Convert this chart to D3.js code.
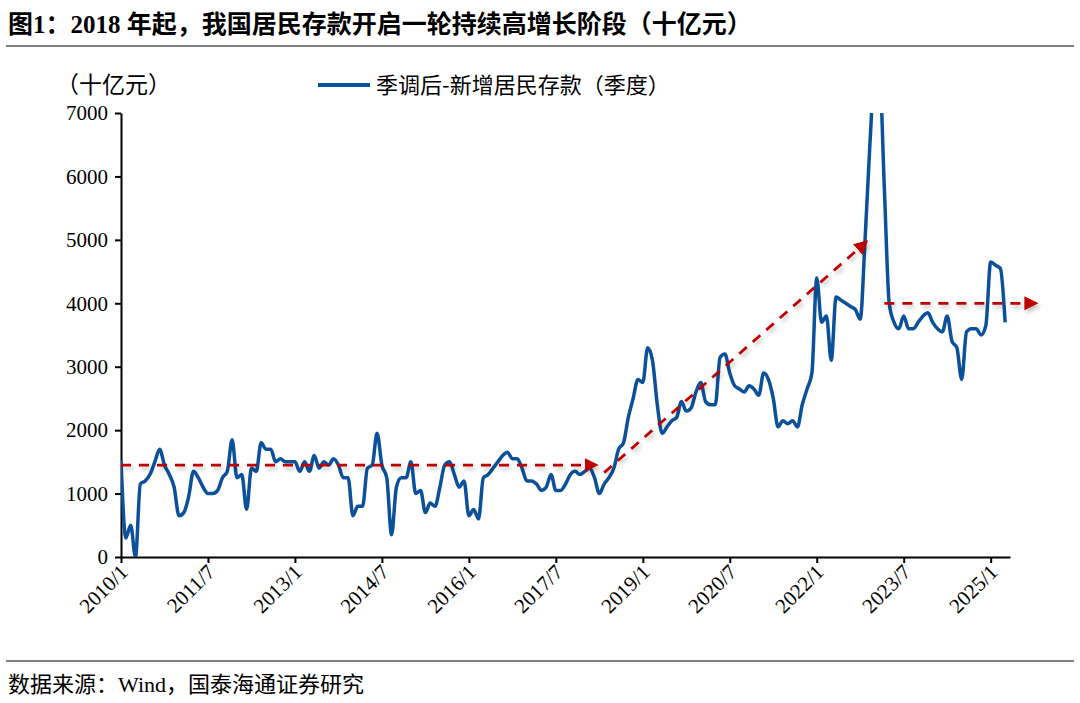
<!DOCTYPE html>
<html><head><meta charset="utf-8">
<script src="https://cdn.jsdelivr.net/npm/d3@7"></script>
<style>body{margin:0;background:#fff}</style></head>
<body><svg id="c" width="1080" height="703"></svg>
<script>
const values = [1530,300,500,0,1150,1200,1300,1500,1700,1450,1300,1100,650,700,950,1350,1250,1100,
1000,1000,1050,1250,1350,1850,1250,1300,750,1400,1350,1800,1700,1700,1500,1550,1500,1500,
1500,1350,1500,1350,1600,1400,1500,1450,1550,1450,1250,1250,650,800,800,1400,1450,1950,
1450,1250,350,1100,1250,1250,1500,1000,1050,700,850,800,1100,1450,1500,1300,1100,1200,
650,750,600,1250,1300,1400,1500,1600,1650,1550,1550,1400,1200,1200,1150,1050,1100,1300,
1050,1050,1150,1300,1350,1300,1350,1400,1250,1000,1150,1250,1400,1700,1800,2200,2500,2800,
2750,3300,3100,2400,1950,2050,2150,2200,2450,2300,2350,2600,2750,2450,2400,2400,3150,3200,
2900,2700,2650,2600,2700,2650,2550,2900,2800,2500,2050,2150,2100,2150,2050,2400,2650,2900,
4400,3700,3800,3100,4100,4050,4000,3950,3900,3750,5000,6500,7600,7600,5800,4000,3700,3600,
3800,3600,3600,3700,3800,3850,3700,3600,3550,3800,3400,3300,2800,3550,3600,3600,3500,3650,
4650,4600,4550,3700];
const tickMonths = [0,18,36,54,72,90,108,126,144,162,180];
const tickLabels = ["2010/1","2011/7","2013/1","2014/7","2016/1","2017/7","2019/1","2020/7","2022/1","2023/7","2025/1"];
const yTicks = [0,1000,2000,3000,4000,5000,6000,7000];
const arrows = [[0,1450,98,1450],[100,1330,154,4950],[158,4000,189,4000]];
const title = "图1：2018 年起，我国居民存款开启一轮持续高增长阶段（十亿元）";
const seriesName = "季调后-新增居民存款（季度）";
const unit = "（十亿元）";
const source = "数据来源：Wind，国泰海通证券研究";

const svg = d3.select("#c");
const x = d3.scaleLinear().domain([0,184]).range([121,1010]);
const y = d3.scaleLinear().domain([0,7000]).range([557,113]);
const serif = "'Liberation Serif','Noto Serif CJK SC','Noto Sans CJK SC',serif";

svg.append("text").attr("x",8).attr("y",33).attr("font-family","'Liberation Serif','Noto Sans CJK SC'")
  .attr("font-weight","bold").attr("font-size",25).text(title);
svg.append("line").attr("x1",6).attr("x2",1074).attr("y1",46).attr("y2",46).attr("stroke","#000").attr("stroke-width",1.2);
svg.append("line").attr("x1",6).attr("x2",1074).attr("y1",661).attr("y2",661).attr("stroke","#000").attr("stroke-width",1.2);
svg.append("text").attr("x",8).attr("y",692).attr("font-family","'Liberation Serif','Noto Sans CJK SC'")
  .attr("font-size",22).text(source);

svg.append("text").attr("x",56).attr("y",93).attr("font-family","'Noto Sans CJK SC'").attr("font-size",23).text(unit);
svg.append("line").attr("x1",318).attr("x2",370).attr("y1",85).attr("y2",85).attr("stroke","#0a509a").attr("stroke-width",4);
svg.append("text").attr("x",376).attr("y",93).attr("font-family","'Noto Sans CJK SC'").attr("font-size",22).text(seriesName);

const yAx = svg.append("g").attr("transform","translate(121,0)")
  .call(d3.axisLeft(y).tickValues(yTicks).tickSize(6).tickSizeOuter(0).tickFormat(d3.format("d")));
yAx.selectAll("text").attr("font-family",serif).attr("font-size",21).attr("fill","#000").attr("dx","-4");
const xAx = svg.append("g").attr("transform","translate(0,557)")
  .call(d3.axisBottom(x).tickValues(tickMonths).tickSize(6).tickSizeOuter(0).tickFormat((d,i)=>tickLabels[i]));
xAx.selectAll("text").attr("font-family",serif).attr("font-size",21).attr("fill","#000")
  .attr("text-anchor","end").attr("transform","rotate(-45)").attr("dx","-6").attr("dy","8");
svg.selectAll(".domain,.tick line").attr("stroke","#000").attr("stroke-width",2);

svg.append("defs").html(`<clipPath id="cp"><rect x="121" y="113" width="900" height="444"/></clipPath>
<marker id="ah" viewBox="0 0 10 10" refX="7" refY="5" markerWidth="5" markerHeight="5" orient="auto" markerUnits="strokeWidth">
<path d="M0,0L10,5L0,10Z" fill="#c00000"/></marker>
<filter id="sh" filterUnits="userSpaceOnUse" x="0" y="0" width="1080" height="703"><feDropShadow dx="2" dy="3" stdDeviation="2" flood-color="#000" flood-opacity="0.25"/></filter>`);

svg.append("path").datum(values).attr("clip-path","url(#cp)")
  .attr("d",d3.line().x((d,i)=>x(i)).y(d=>y(d)).curve(d3.curveMonotoneX))
  .attr("fill","none").attr("stroke","#0a509a").attr("stroke-width",3.5);

svg.selectAll(".arr").data(arrows).join("line").attr("class","arr")
  .attr("x1",d=>x(d[0])).attr("y1",d=>y(d[1])).attr("x2",d=>x(d[2])).attr("y2",d=>y(d[3]))
  .attr("stroke","#c00000").attr("stroke-width",2.8).attr("stroke-dasharray","10,8")
  .attr("marker-end","url(#ah)").attr("filter","url(#sh)");
</script></body></html>
